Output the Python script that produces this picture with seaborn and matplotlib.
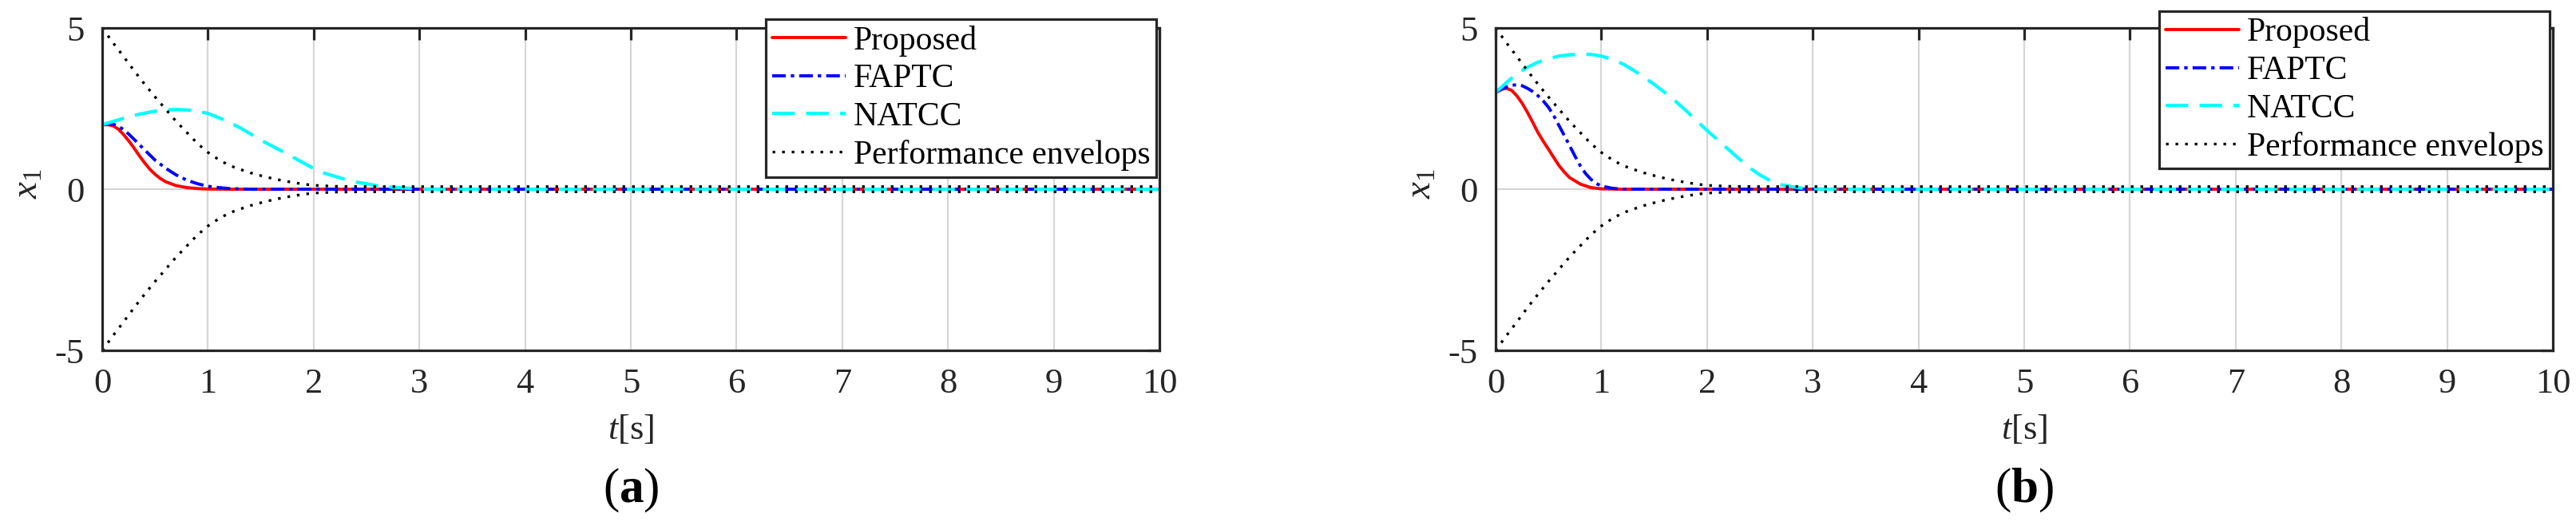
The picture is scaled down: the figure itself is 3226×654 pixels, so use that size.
import matplotlib
matplotlib.use("Agg")
import matplotlib.pyplot as plt
import seaborn as sns

# ---- data ----
# performance envelope (same in both panels)
env_t = [0, 0.1, 0.2, 0.3, 0.4, 0.5, 0.6, 0.7, 0.8, 0.9, 1.0, 1.1, 1.2, 1.3, 1.4,
         1.5, 1.6, 1.7, 1.8, 1.9, 2.0, 2.2, 2.5, 10]
env_up = [5.0, 4.55, 4.12, 3.68, 3.26, 2.86, 2.48, 2.1, 1.76, 1.42, 1.14, 0.92, 0.74,
          0.62, 0.51, 0.42, 0.34, 0.27, 0.21, 0.16, 0.12, 0.09, 0.08, 0.08]
env_lo = [-5.0, -4.55, -4.12, -3.68, -3.26, -2.86, -2.48, -2.1, -1.76, -1.42, -1.14, -0.92,
          -0.74, -0.62, -0.51, -0.42, -0.34, -0.27, -0.21, -0.16, -0.12, -0.09, -0.08, -0.08]

# panel (a)
a_prop_t = [0, 0.05, 0.1, 0.15, 0.2, 0.25, 0.3, 0.35, 0.4, 0.45, 0.5, 0.55, 0.6, 0.7,
            0.8, 0.9, 1.0, 1.2, 10]
a_prop = [2.0, 2.0, 1.97, 1.87, 1.7, 1.5, 1.28, 1.04, 0.82, 0.62, 0.46, 0.33, 0.23, 0.11,
          0.05, 0.02, 0.005, 0, 0]
a_fap_t = [0, 0.05, 0.1, 0.15, 0.2, 0.25, 0.3, 0.4, 0.5, 0.6, 0.7, 0.8, 0.9, 1.0, 1.1,
           1.2, 1.4, 10]
a_fap = [2.0, 2.02, 2.02, 1.96, 1.85, 1.71, 1.55, 1.22, 0.9, 0.65, 0.44, 0.28, 0.17, 0.09,
         0.05, 0.02, 0, 0]
a_nat_t = [0, 0.1, 0.2, 0.3, 0.4, 0.5, 0.6, 0.7, 0.8, 0.9, 1.0, 1.1, 1.2, 1.3, 1.4, 1.5,
           1.6, 1.75, 1.9, 2.0, 2.1, 2.25, 2.4, 2.5, 2.6, 2.75, 3.0, 3.2, 10]
a_nat = [2.0, 2.1, 2.2, 2.29, 2.36, 2.42, 2.46, 2.47, 2.46, 2.42, 2.35, 2.22, 2.08, 1.91,
         1.72, 1.52, 1.35, 1.09, 0.82, 0.64, 0.5, 0.35, 0.22, 0.17, 0.11, 0.06, 0.01, 0, 0]

# panel (b)
b_prop_t = [0, 0.05, 0.1, 0.15, 0.2, 0.25, 0.3, 0.35, 0.4, 0.45, 0.5, 0.55, 0.6, 0.65,
            0.7, 0.8, 0.9, 1.0, 1.2, 10]
b_prop = [3.0, 3.1, 3.13, 3.07, 2.9, 2.67, 2.39, 2.08, 1.76, 1.49, 1.24, 0.98, 0.73, 0.53,
          0.36, 0.16, 0.05, 0.01, 0, 0]
b_fap_t = [0, 0.1, 0.15, 0.2, 0.25, 0.3, 0.35, 0.4, 0.45, 0.5, 0.55, 0.6, 0.65, 0.7, 0.75,
           0.8, 0.85, 0.9, 0.95, 1.0, 1.1, 1.2, 10]
b_fap = [3.0, 3.17, 3.22, 3.24, 3.21, 3.13, 3.03, 2.9, 2.74, 2.54, 2.28, 1.97, 1.66, 1.35,
         1.03, 0.73, 0.49, 0.31, 0.18, 0.1, 0.03, 0, 0]
b_nat_t = [0, 0.1, 0.2, 0.3, 0.4, 0.5, 0.6, 0.7, 0.8, 0.9, 1.0, 1.1, 1.2, 1.3, 1.4, 1.5,
           1.6, 1.7, 1.8, 1.9, 2.0, 2.1, 2.2, 2.3, 2.4, 2.5, 2.6, 2.7, 2.8, 2.9, 3.0, 3.2, 10]
b_nat = [3.0, 3.3, 3.58, 3.78, 3.94, 4.05, 4.13, 4.17, 4.18, 4.18, 4.13, 4.03, 3.89, 3.7,
         3.48, 3.25, 3.0, 2.73, 2.44, 2.13, 1.82, 1.53, 1.24, 0.95, 0.67, 0.44, 0.26, 0.14,
         0.08, 0.03, 0.01, 0, 0]

series_names = ["Proposed", "FAPTC", "NATCC", "Performance envelops"]
x_ticks = list(range(0, 11))
y_ticks = [-5, 0, 5]

# ---- style ----
sns.set_style("white")
plt.rcParams["font.family"] = ["Liberation Serif", "DejaVu Serif"]
plt.rcParams["mathtext.fontset"] = "custom"
plt.rcParams["mathtext.rm"] = "Liberation Serif"
plt.rcParams["mathtext.it"] = "Liberation Serif:italic"
plt.rcParams["mathtext.bf"] = "Liberation Serif:bold"
plt.rcParams["axes.unicode_minus"] = False

DARK = "#262626"
styles = {
    "Proposed": dict(color="red", linestyle="-", lw=2.8),
    "FAPTC": dict(color="blue", linestyle=(0, (4.4, 1.6, 1.1, 1.6)), lw=2.8),
    "NATCC": dict(color="cyan", linestyle=(0, (6.8, 3.4)), lw=3.0),
    "Performance envelops": dict(color="black", linestyle=(0, (1, 2.6)), lw=2.4),
}

fig = plt.figure(figsize=(32.26, 6.54), dpi=100)
ax_a = fig.add_axes([0.0397, 0.3287, 0.4104, 0.6177])
ax_b = fig.add_axes([0.5806, 0.3287, 0.4104, 0.6177])


def draw_panel(ax, prop, fap, nat, tag, leg_anchor):
    curves = {"Proposed": prop, "FAPTC": fap, "NATCC": nat}
    for name, (tt, vv) in curves.items():
        sns.lineplot(x=tt, y=vv, ax=ax, label=name, estimator=None, sort=False,
                     **styles[name])
    sns.lineplot(x=env_t, y=env_up, ax=ax, label="Performance envelops",
                 estimator=None, sort=False, **styles["Performance envelops"])
    sns.lineplot(x=env_t, y=env_lo, ax=ax, label="_nolegend_",
                 estimator=None, sort=False, **styles["Performance envelops"])

    ax.set_xlim(0, 10)
    ax.set_ylim(-5, 5)
    ax.set_xticks(x_ticks)
    ax.set_yticks(y_ticks)
    ax.grid(True, color="#d6d6d6", lw=1.6)
    ax.set_axisbelow(True)
    for sp in ax.spines.values():
        sp.set_color(DARK)
        sp.set_linewidth(2.3)
    ax.tick_params(direction="in", length=11, width=2.3, top=True, right=True,
                   labelsize=32, pad=16, color=DARK, labelcolor=DARK)

    ax.set_xlabel(r"$t[\mathrm{s}]$", fontsize=32, color=DARK, labelpad=12)
    ax.set_ylabel(r"$x_{\mathrm{1}}$", fontsize=34, color=DARK)
    ax.yaxis.set_label_coords(-0.054, 0.517)

    leg = ax.legend(loc="upper right", bbox_to_anchor=leg_anchor,
                    bbox_transform=fig.transFigure, fontsize=30, frameon=True,
                    fancybox=False, edgecolor=DARK, framealpha=1,
                    handlelength=2.2, handletextpad=0.25, labelspacing=0.22,
                    borderpad=0.18, borderaxespad=0)
    leg.get_frame().set_linewidth(2.3)
    for txt in leg.get_texts():
        txt.set_color("black")

    pos = ax.get_position()
    fig.text((pos.x0 + pos.x1) / 2, 0.061, "(" + r"$\mathbf{" + tag + "}$" + ")",
             ha="center", va="center", fontsize=44, color="black")


draw_panel(ax_a, (a_prop_t, a_prop), (a_fap_t, a_fap), (a_nat_t, a_nat), "a",
           (0.4489, 0.9633))
draw_panel(ax_b, (b_prop_t, b_prop), (b_fap_t, b_fap), (b_nat_t, b_nat), "b",
           (0.9898, 0.9786))

fig.savefig("out.png", dpi=100)
